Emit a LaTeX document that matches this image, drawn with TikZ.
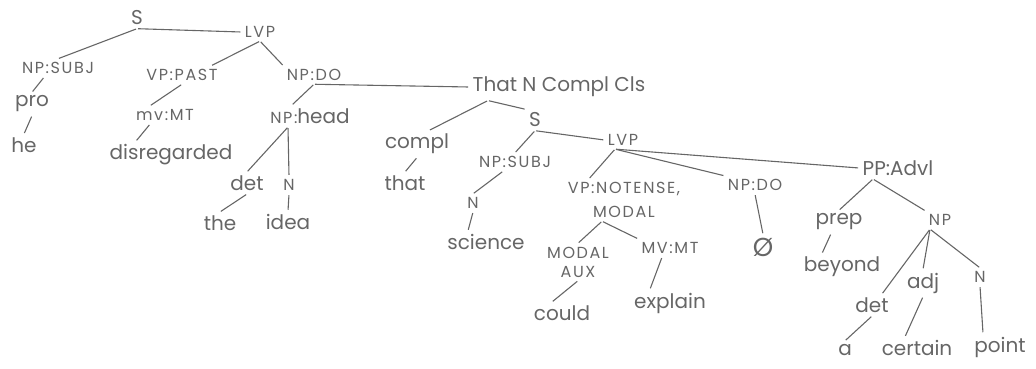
\documentclass[tikz,border=0pt]{standalone}
\usepackage{fontspec}
\setmainfont{Poppins}
\newfontfamily\capsfont[LetterSpace=10]{Poppins}
\definecolor{pencil}{HTML}{666666}
\newcommand\cp[1]{{\capsfont\fontsize{16}{18}\selectfont #1}}

\begin{document}
\begin{tikzpicture}[x=1pt, y=-1pt, every node/.style={inner sep=3pt, text=pencil},
  wd/.style={font=\fontsize{20}{22}\selectfont},
  lab/.style={font=\capsfont\fontsize{16}{18}\selectfont},
  draw=pencil, line width=1.1pt, shorten <=1pt, shorten >=1pt]
\useasboundingbox (0,0) rectangle (1036,368);
\node[wd] (s1) at (137,18) {S};
\node[lab] (lvp1) at (260,32) {LVP};
\node[lab] (npsubj1) at (58,68) {NP:SUBJ};
\node[lab] (vppast) at (182,75) {VP:PAST};
\node[lab] (npdo1) at (314,75) {NP:DO};
\node[wd] (pro) at (32,104) {pro};
\node[lab] (mvmt1) at (165,115) {mv:MT};
\node[wd] (nphead) at (310,116) {\cp{NP:}head};
\node[wd] (he) at (24,145) {he};
\node[wd] (disreg) at (171,155) {disregarded};
\node[wd] (det1) at (247,183) {det};
\node[lab] (n1) at (289,185) {N};
\node[wd] (the) at (220,223) {the};
\node[wd] (idea) at (288,222) {idea};
\node[wd] (ncc) at (559,87) {That N Compl Cls};
\node[wd] (compl) at (417,144) {compl};
\node[wd] (s2) at (535,120) {S};
\node[lab] (lvp2) at (623,140) {LVP};
\node[wd] (that) at (405,183) {that};
\node[lab] (npsubj2) at (515,162) {NP:SUBJ};
\node[lab] (n2) at (473,203) {N};
\node[wd] (science) at (486,242) {science};
\node[lab, align=center] (vpnt) at (624,200) {VP:NOTENSE,\\[6pt]MODAL};
\node[lab, align=center] (modaux) at (578,262) {MODAL\\[1pt]AUX};
\node[lab] (mvmt2) at (670,248) {MV:MT};
\node[lab] (npdo2) at (755,185) {NP:DO};
\node[wd] (ppadvl) at (898,168) {PP:Advl};
\node[wd, font=\fontsize{26}{28}\selectfont] (empty) at (763,247) {Ø};
\node[wd] (could) at (562,313) {could};
\node[wd] (explain) at (670,303) {explain};
\node[wd] (prep) at (839,222) {prep};
\node[lab] (np3) at (940,220) {NP};
\node[wd] (beyond) at (842,267) {beyond};
\node[wd] (det3) at (872,305) {det};
\node[wd] (adj) at (923,283) {adj};
\node[lab] (n3) at (980,277) {N};
\node[wd] (a) at (845,350) {a};
\node[wd] (certain) at (917,348) {certain};
\node[wd] (point) at (1000,347) {point};
\draw (s1.south) -- (npsubj1.north);
\draw (s1.south) -- (lvp1.west);
\draw (lvp1.south) -- ([xshift=-10pt]vppast.north east);
\draw (lvp1.south) -- (npdo1.north west);
\draw ([xshift=-14pt]npsubj1.south) -- (pro.north);
\draw (pro.south) -- (he.north);
\draw (vppast.south) -- ([xshift=-15pt]mvmt1.north);
\draw ([xshift=-15pt]mvmt1.south) -- ([xshift=-35pt]disreg.north);
\draw (npdo1.south) -- ([xshift=-18pt]nphead.north);
\draw (npdo1.south) -- (ncc.west);
\draw ([xshift=-22pt]nphead.south) -- (det1.north);
\draw ([xshift=-22pt]nphead.south) -- (n1.north);
\draw (det1.south) -- (the.north);
\draw (n1.south) -- (idea.north);
\draw ([xshift=-71pt]ncc.south) -- ([xshift=12pt]compl.north);
\draw ([xshift=-71pt]ncc.south) -- (s2.north west);
\draw (compl.south) -- (that.north);
\draw (s2.south) -- (npsubj2.north);
\draw (s2.south) -- (lvp2.west);
\draw ([xshift=-12pt]npsubj2.south) -- (n2.north);
\draw (n2.south) -- ([xshift=-18pt]science.north);
\draw ([xshift=-8pt]lvp2.south) -- ([xshift=-35pt]vpnt.north);
\draw ([xshift=-8pt]lvp2.south) -- (npdo2.north west);
\draw ([xshift=-8pt]lvp2.south) -- (ppadvl.west);
\draw ([xshift=-22pt]vpnt.south) -- (modaux.north);
\draw ([xshift=-22pt]vpnt.south) -- (mvmt2.north west);
\draw (modaux.south) -- ([xshift=-10pt]could.north);
\draw ([xshift=-8pt]mvmt2.south) -- ([xshift=-20pt]explain.north);
\draw (npdo2.south) -- (empty.north);
\draw ([xshift=-25pt]ppadvl.south) -- (prep.north);
\draw ([xshift=-25pt]ppadvl.south) -- (np3.north west);
\draw ([xshift=-8pt]prep.south) -- ([xshift=-20pt]beyond.north);
\draw ([xshift=-10pt]np3.south) -- ([xshift=10pt]det3.north);
\draw ([xshift=-10pt]np3.south) -- (adj.north);
\draw ([xshift=-10pt]np3.south) -- (n3.north);
\draw (det3.south) -- (a.north);
\draw (adj.south) -- ([xshift=-12pt]certain.north);
\draw (n3.south) -- ([xshift=-17pt]point.north);
\end{tikzpicture}
\end{document}
